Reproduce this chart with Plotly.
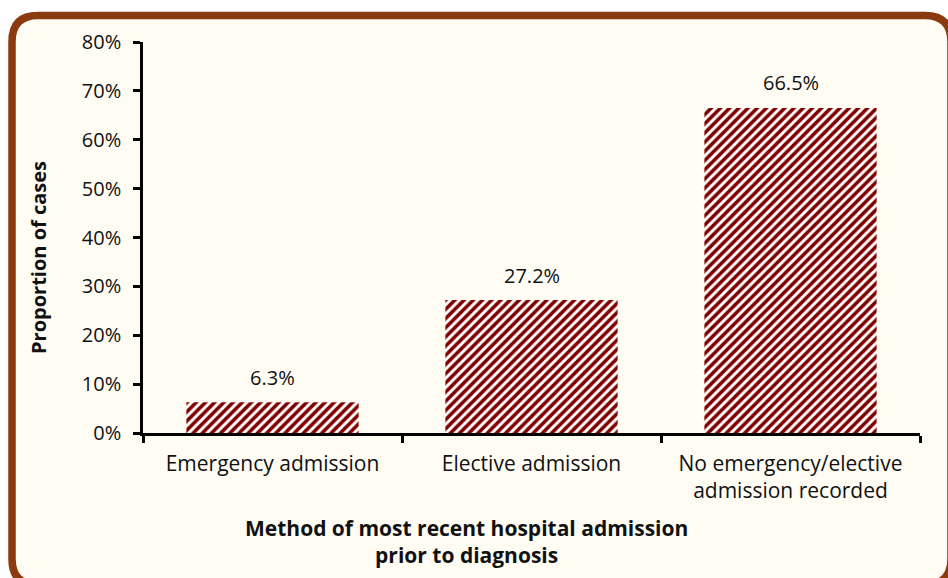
import plotly.graph_objects as go

categories = ["Emergency admission", "Elective admission", "No emergency/elective<br>admission recorded"]
values = [6.3, 27.2, 66.5]
labels = ["6.3%", "27.2%", "66.5%"]
y_ticks = [0, 10, 20, 30, 40, 50, 60, 70, 80]

W, H = 948, 578
L, R, T, B = 143, 920, 42, 433
pw, ph = R - L, B - T

def px(x):
    return (x - L) / pw

def py(y):
    return (B - y) / ph

FONT = "Open Sans"
TXT = "#111111"

fig = go.Figure()
fig.add_trace(go.Bar(
    x=categories, y=values, width=0.665,
    marker=dict(color="white", line=dict(width=0),
                pattern=dict(shape="/", fgcolor="#800000", bgcolor="white", size=6.5,
                             solidity=0.55, fgopacity=1, fillmode="replace")),
    hoverinfo="x+y",
))

for c, v, t in zip(categories, values, labels):
    fig.add_annotation(x=c, y=v, text=t, showarrow=False, yanchor="middle", xanchor="center", yshift=25,
                       font=dict(family=FONT, size=20, color=TXT))

# rounded frame
x0, x1, y0, y1 = 12, 951, 15.5, 585
r = 26
rx, ry = r / pw, r / ph
X0, X1, Y0, Y1 = px(x0), px(x1), py(y0), py(y1)
path = (f"M {X0+rx} {Y0} L {X1-rx} {Y0} Q {X1} {Y0} {X1} {Y0-ry} "
        f"L {X1} {Y1+ry} Q {X1} {Y1} {X1-rx} {Y1} "
        f"L {X0+rx} {Y1} Q {X0} {Y1} {X0} {Y1+ry} "
        f"L {X0} {Y0-ry} Q {X0} {Y0} {X0+rx} {Y0} Z")
fig.add_shape(type="path", path=path, xref="paper", yref="paper",
              line=dict(color="#8B3A0F", width=7.5), fillcolor="#FFFCF4", layer="below")

fig.add_annotation(text="<b>Proportion of cases</b>", x=px(38), y=py(258), xref="paper", yref="paper",
                   xanchor="center", yanchor="middle",
                   textangle=-90, showarrow=False, font=dict(family=FONT, size=20, color=TXT))
fig.add_annotation(text="<b>Method of most recent hospital admission<br>prior to diagnosis</b>",
                   x=px(466), y=py(541), xref="paper", yref="paper", showarrow=False,
                   xanchor="center", yanchor="middle",
                   font=dict(family=FONT, size=21, color=TXT))

fig.update_layout(
    width=W, height=H, margin=dict(l=L, r=W - R, t=T, b=H - B),
    paper_bgcolor="white", plot_bgcolor="rgba(0,0,0,0)",
    showlegend=False, bargap=0.335,
    font=dict(family=FONT, size=20, color=TXT),
)
fig.update_yaxes(range=[0, 80], tickvals=y_ticks, ticktext=[f"{v}%" for v in y_ticks],
                 showgrid=False, zeroline=False, showline=True, linecolor="black", linewidth=2.5,
                 ticks="outside", ticklen=7, tickwidth=2.5, tickcolor="black", ticklabelstandoff=8,
                 tickfont=dict(family=FONT, size=20, color=TXT))
fig.update_xaxes(showgrid=False, showline=True, linecolor="black", linewidth=2.5,
                 ticks="outside", tickson="boundaries", ticklen=7, tickwidth=2.5, tickcolor="black",
                 ticklabelstandoff=10,
                 tickfont=dict(family=FONT, size=21, color=TXT))

fig.write_html("out.html", config={"displayModeBar": False},
               post_script="document.body.style.margin='0';document.body.style.overflow='hidden';")
